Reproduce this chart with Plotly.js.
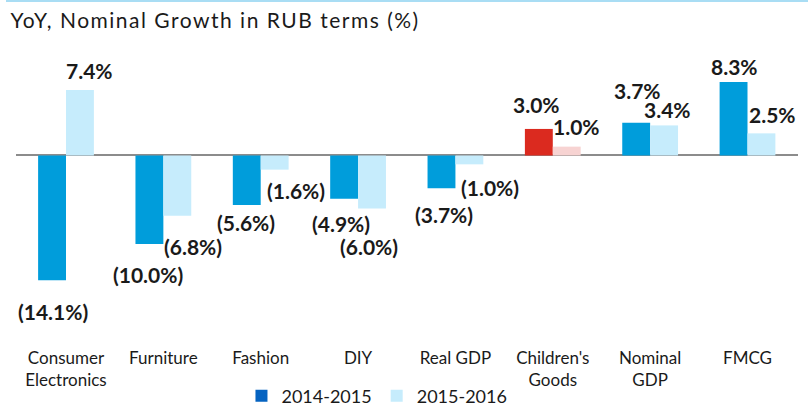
<!DOCTYPE html>
<html>
<head>
<meta charset="utf-8">
<script src="https://cdn.plot.ly/plotly-3.0.1.min.js"></script>
<style>
  html, body { margin: 0; padding: 0; background: #fff; }
  #wrap { position: relative; width: 808px; height: 411px; }
  #chart { width: 808px; height: 411px; }
  #topline { position: absolute; left: 6px; right: 0; top: 0; height: 2px; background: #a9ddf4; z-index: 5; }
  .gtitle { letter-spacing: 1.5px; }
</style>
</head>
<body>
<div id="wrap">
  <div id="topline"></div>
  <div id="chart"></div>
</div>
<script>
// ---- data ----
const categories = ['Consumer<br>Electronics', 'Furniture', 'Fashion', 'DIY', 'Real GDP', "Children's<br>Goods", 'Nominal<br>GDP', 'FMCG'];
const seriesNames = ['2014-2015', '2015-2016'];
const growth2014_2015 = [-14.1, -10.0, -5.6, -4.9, -3.7, 3.0, 3.7, 8.3];
const growth2015_2016 = [7.4, -6.8, -1.6, -6.0, -1.0, 1.0, 3.4, 2.5];
const highlightCategory = "Children's<br>Goods";

// ---- styles ----
const darkBlue = '#009ddb', lightBlue = '#c6ecfc';
const darkRed = '#db2a1f', lightRed = '#f7d3d2';
const legendDark = '#0563c1';
const textColor = '#1a1a1a';
const FONT = 'Lato, "Open Sans", sans-serif';

function colorsFor(base, hi) {
  return categories.map(c => c === highlightCategory ? hi : base);
}
function fmt(v) {
  const s = Math.abs(v).toFixed(1) + '%';
  return v < 0 ? '(' + s + ')' : s;
}

// label placement offsets (pixels) relative to bar end
const off1 = [[-13,-31],[-15,-31],[-15,-17],[-17,-25],[-11,-26],[-16,24],[-13,32],[-13,16]];
const off2 = [[23,20],[30,-31],[35,-21],[11,-38],[35,-23],[24,20],[17,16],[25,19]];

const traces = [
  { type: 'bar', x: categories, y: growth2014_2015, name: seriesNames[0],
    marker: { color: colorsFor(darkBlue, darkRed) }, showlegend: false, hoverinfo: 'x+y' },
  { type: 'bar', x: categories, y: growth2015_2016, name: seriesNames[1],
    marker: { color: colorsFor(lightBlue, lightRed) }, showlegend: false, hoverinfo: 'x+y' },
  // legend entries
  { type: 'bar', x: [null], y: [null], name: seriesNames[0], marker: { color: legendDark },
    xaxis: 'x2', yaxis: 'y2', showlegend: true },
  { type: 'bar', x: [null], y: [null], name: seriesNames[1], marker: { color: lightBlue },
    xaxis: 'x2', yaxis: 'y2', showlegend: true }
];

const annotations = [];
[growth2014_2015, growth2015_2016].forEach((arr, s) => {
  const offs = s === 0 ? off1 : off2;
  arr.forEach((v, i) => {
    annotations.push({
      x: categories[i], y: v, xref: 'x', yref: 'y',
      text: fmt(v), showarrow: false,
      xshift: offs[i][0], yshift: offs[i][1],
      xanchor: 'center', yanchor: 'middle',
      font: { family: FONT, size: 21, color: textColor, weight: 'bold' }
    });
  });
});

const layout = {
  width: 808, height: 411,
  margin: { l: 16, r: 10, t: 60, b: 71, autoexpand: false },
  paper_bgcolor: '#ffffff', plot_bgcolor: '#ffffff',
  font: { family: FONT, color: textColor },
  title: { text: 'YoY, Nominal Growth in RUB terms (%)', x: 0.013, xanchor: 'left',
           y: 0.95, yanchor: 'middle', yref: 'container',
           font: { family: FONT, size: 21, color: textColor } },
  barmode: 'group', bargap: 0.427, bargroupgap: 0,
  xaxis: { type: 'category', showgrid: false, showline: false, ticks: '', zeroline: false,
           automargin: false, ticklabelstandoff: 6,
           tickfont: { family: FONT, size: 17, color: textColor }, fixedrange: true },
  yaxis: { range: [-20.85, 10.79], visible: true, showticklabels: false, showgrid: false,
           automargin: false,
           zeroline: true, zerolinecolor: '#8c8c8c', zerolinewidth: 2, showline: false, ticks: '',
           fixedrange: true },
  xaxis2: { overlaying: 'x', visible: false },
  yaxis2: { overlaying: 'y', visible: false },
  showlegend: true,
  legend: { orientation: 'h', x: 0.4616, xanchor: 'center', y: -0.2, yanchor: 'middle',
            font: { family: FONT, size: 18, color: textColor }, bgcolor: 'rgba(0,0,0,0)' },
  annotations: annotations
};

Plotly.newPlot('chart', traces, layout, { displayModeBar: false, staticPlot: true });
</script>
</body>
</html>
